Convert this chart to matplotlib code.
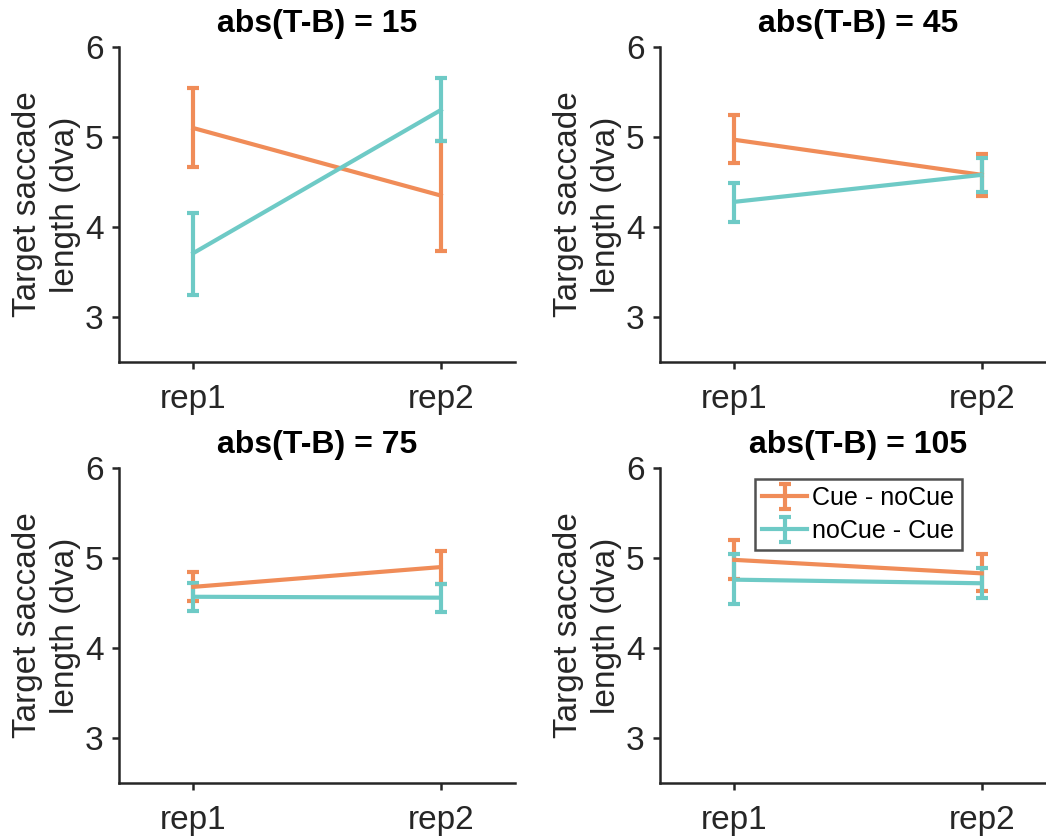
import matplotlib
matplotlib.use("Agg")
from matplotlib import pyplot as plt
import numpy as np

plt.rcParams['font.family'] = ['Liberation Sans', 'DejaVu Sans']

reps = ["rep1", "rep2"]
titles = ["abs(T-B) = 15", "abs(T-B) = 45", "abs(T-B) = 75", "abs(T-B) = 105"]

# Cue - noCue : mean, low, high per panel (rep1, rep2)
cue_mean = [[5.10, 4.35], [4.97, 4.58], [4.68, 4.90], [4.98, 4.83]]
cue_low = [[4.67, 3.73], [4.71, 4.34], [4.52, 4.71], [4.77, 4.63]]
cue_high = [[5.55, 4.96], [5.24, 4.81], [4.84, 5.08], [5.20, 5.04]]

# noCue - Cue
nocue_mean = [[3.71, 5.30], [4.28, 4.58], [4.57, 4.56], [4.76, 4.72]]
nocue_low = [[3.25, 4.96], [4.06, 4.39], [4.41, 4.40], [4.49, 4.56]]
nocue_high = [[4.16, 5.66], [4.49, 4.77], [4.72, 4.71], [5.04, 4.89]]

orange = "#f08c58"
cyan = "#6ecac6"
dark = "#262626"

fig = plt.figure(figsize=(10.46, 8.39), dpi=100)
pos = [[0.1138, 0.5685, 0.3786, 0.3754],
       [0.631, 0.5685, 0.3786, 0.3754],
       [0.1138, 0.0667, 0.3786, 0.3754],
       [0.631, 0.0667, 0.3786, 0.3754]]

x = np.array([1, 2])
for i in range(4):
    ax = fig.add_axes(pos[i])
    for mean, lo, hi, col, lab in [(cue_mean[i], cue_low[i], cue_high[i], orange, "Cue - noCue"),
                                   (nocue_mean[i], nocue_low[i], nocue_high[i], cyan, "noCue - Cue")]:
        m = np.array(mean)
        err = [m - np.array(lo), np.array(hi) - m]
        ax.errorbar(x, m, yerr=err, color=col, lw=3, capsize=4, capthick=3, label=lab)
    ax.set_xlim(0.7, 2.3)
    ax.set_ylim(2.5, 6)
    ax.set_xticks(x)
    ax.set_xticklabels(reps)
    ax.set_yticks([3, 4, 5, 6])
    ax.set_title(titles[i], fontsize=23, fontweight="bold", pad=11)
    ax.set_ylabel("Target saccade\nlength (dva)", fontsize=24, color=dark, labelpad=3,
                  linespacing=1.3)
    ax.spines["top"].set_visible(False)
    ax.spines["right"].set_visible(False)
    for s in ["left", "bottom"]:
        ax.spines[s].set_linewidth(1.8)
        ax.spines[s].set_color(dark)
    ax.tick_params(direction="out", length=5, width=1.8, colors=dark, labelsize=24, pad=11)
    ax.tick_params(axis="y", pad=6)
    if i == 3:
        leg = ax.legend(loc="upper center", bbox_to_anchor=(0.5, 0.99), fontsize=18,
                        frameon=True, fancybox=False, handlelength=1.8,
                        borderpad=0.3, labelspacing=0.35, handletextpad=0.2, borderaxespad=0.3)
        leg.get_frame().set_edgecolor(dark)
        leg.get_frame().set_linewidth(1.8)

plt.savefig("out.png", dpi=100)
